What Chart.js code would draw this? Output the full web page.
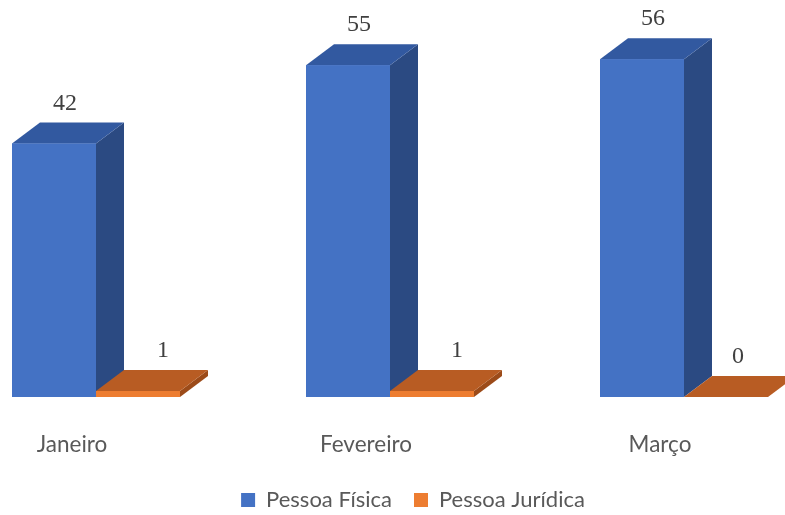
<html><head>
<meta charset="UTF-8">
<title>Pessoa Física x Pessoa Jurídica</title>
<style>
  html, body { margin: 0; padding: 0; background: #ffffff; }
  #chart { display: block; }
</style>
<script src="https://cdn.jsdelivr.net/npm/chart.js"></script>
</head>
<body>
<canvas id="chart" width="785" height="515"></canvas>
<script>
// data
const months = ['Janeiro', 'Fevereiro', 'Março'];
const pessoaFisica = [42, 55, 56];
const pessoaJuridica = [1, 1, 0];
const seriesNames = ['Pessoa Física', 'Pessoa Jurídica'];

// fake 3d depth of the columns
const DX = 28, DY = 21;
const faces = [
  { front: '#4472C4', top: '#3259A0', side: '#2B4A82' },
  { front: '#ED7D31', top: '#B85C23', side: '#9C4B19' }
];

function poly(ctx, pts) {
  ctx.beginPath();
  ctx.moveTo(pts[0][0], pts[0][1]);
  for (let i = 1; i < pts.length; i++) ctx.lineTo(pts[i][0], pts[i][1]);
  ctx.closePath();
  ctx.fill();
}

const depthPlugin = {
  id: 'depth3d',
  afterLayout(chart) {
    // legend sits a bit right of centre in the original
    chart.legend.left += 23;
    chart.legend.right += 23;
  },
  afterDatasetsDraw(chart) {
    const ctx = chart.ctx;
    // draw series in order so the orange floor slab sits over the blue side face
    chart.data.datasets.forEach((ds, di) => {
      const meta = chart.getDatasetMeta(di);
      const c = faces[di];
      meta.data.forEach((bar) => {
        const p = bar.getProps(['x', 'y', 'base', 'width'], true);
        const l = p.x - p.width / 2, r = p.x + p.width / 2;
        const t = p.y, b = p.base;
        ctx.save();
        ctx.fillStyle = c.side;
        poly(ctx, [[r, t], [r + DX, t - DY], [r + DX, b - DY], [r, b]]);
        ctx.fillStyle = c.top;
        poly(ctx, [[l, t], [r, t], [r + DX, t - DY], [l + DX, t - DY]]);
        ctx.restore();
        bar.draw(ctx);
      });
    });

    // value labels above each column
    ctx.save();
    ctx.font = '24px "Liberation Serif", serif';
    ctx.fillStyle = '#404040';
    ctx.textAlign = 'center';
    ctx.textBaseline = 'middle';
    chart.data.datasets.forEach((ds, di) => {
      const meta = chart.getDatasetMeta(di);
      meta.data.forEach((bar, i) => {
        const v = ds.data[i];
        const off = di === 0 ? 11 : (v > 0 ? 25 : 12);
        ctx.fillText(String(v), bar.x + off, bar.y - 40);
      });
    });
    ctx.restore();
  }
};

const chart = new Chart(document.getElementById('chart').getContext('2d'), {
  type: 'bar',
  data: {
    labels: months,
    datasets: [{
      label: seriesNames[0],
      data: pessoaFisica,
      backgroundColor: faces[0].front,
      borderWidth: 0,
      clip: false
    }, {
      label: seriesNames[1],
      data: pessoaJuridica,
      backgroundColor: faces[1].front,
      borderWidth: 0,
      clip: false
    }]
  },
  options: {
    responsive: false,
    animation: false,
    layout: { padding: { left: 96, right: 101, top: 35, bottom: -6 } },
    datasets: {
      bar: { categoryPercentage: 0.5714, barPercentage: 1.0 }
    },
    scales: {
      x: {
        offset: false,
        grid: { display: false, drawTicks: false },
        border: { display: false },
        ticks: {
          padding: 34,
          labelOffset: -24,
          color: '#595959',
          font: { family: 'Lato', size: 22.5 }
        },
        afterFit(scale) { scale.height = 70; }
      },
      y: { display: false, min: 0, max: 60 }
    },
    plugins: {
      legend: {
        position: 'bottom',
        labels: {
          boxWidth: 14,
          boxHeight: 14,
          padding: 22,
          color: '#595959',
          font: { family: 'Lato', size: 22 }
        }
      },
      tooltip: { enabled: false }
    }
  },
  plugins: [depthPlugin]
});
</script>
</body></html>
